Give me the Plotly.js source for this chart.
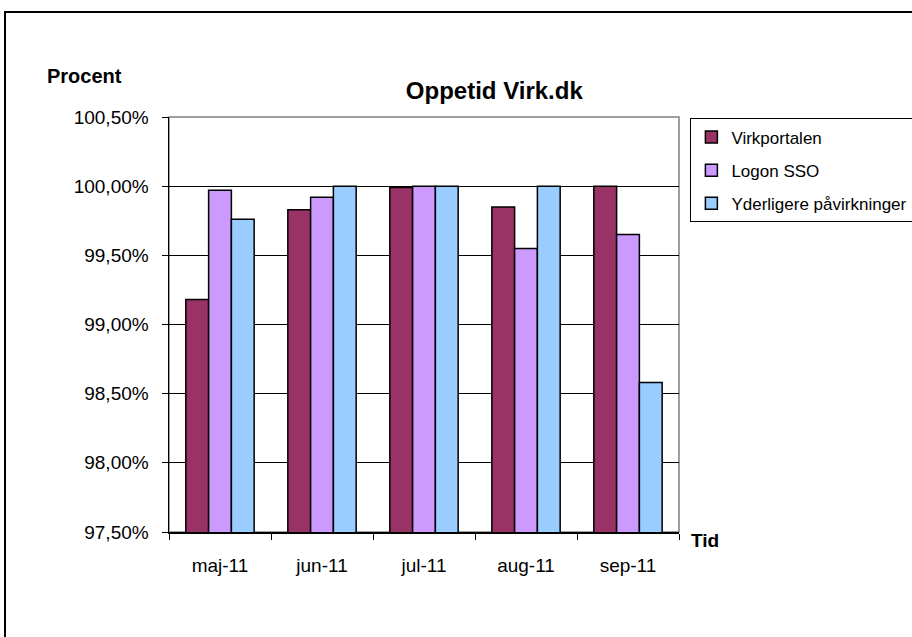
<!DOCTYPE html>
<html>
<head>
<meta charset="utf-8">
<script src="https://cdn.plot.ly/plotly-3.0.1.min.js"></script>
<style>
  body { margin: 0; overflow: hidden; background: #fff; }
  #chart { width: 912px; height: 637px; }
  #frame { position: absolute; left: 4px; top: 11px; width: 1000px; height: 1000px;
           border: 2px solid #000; pointer-events: none; }
</style>
</head>
<body>
<div id="chart"></div>
<div id="frame"></div>
<script>
  let months = ["maj-11", "jun-11", "jul-11", "aug-11", "sep-11"];
  let virkportalen = [99.18, 99.83, 99.99, 99.85, 100.00];
  let logonSSO = [99.97, 99.92, 100.00, 99.55, 99.65];
  let yderligere = [99.76, 100.00, 100.00, 100.00, 98.58];

  document.addEventListener("DOMContentLoaded", function() {
    drawChart();
  });

  function barTrace(name, values, color, group) {
    return {
      x: months,
      y: values,
      name: name,
      type: "bar",
      legendgroup: group,
      marker: { color: color, line: { color: "#000", width: 1.5 } },
      hoverinfo: "x+y+name"
    };
  }

  function drawChart() {
    let font = { family: "Liberation Sans, Arial, sans-serif", color: "#000" };

    let traces = [
      barTrace("Virkportalen", virkportalen, "#993366", "a"),
      barTrace("Logon SSO", logonSSO, "#CC99FF", "b"),
      barTrace("Yderligere påvirkninger", yderligere, "#99CCFF", "c")
    ];

    let layout = {
      width: 912,
      height: 637,
      margin: { l: 169, r: 233, t: 117, b: 105 },
      paper_bgcolor: "#fff",
      plot_bgcolor: "#fff",
      separators: ",.",
      font: Object.assign({ size: 18 }, font),
      title: {
        text: "<b>Oppetid Virk.dk</b>",
        font: Object.assign({ size: 24 }, font),
        xref: "container", x: 0.542, xanchor: "center",
        yref: "container", y: 0.857, yanchor: "middle"
      },
      barmode: "group",
      bargap: 0.33,
      bargroupgap: 0,
      xaxis: {
        type: "category",
        tickson: "boundaries",
        ticks: "outside",
        ticklen: 6,
        tickcolor: "#000",
        showline: true,
        linecolor: "#000",
        linewidth: 1.5,
        showgrid: false,
        ticklabelstandoff: 16,
        tickfont: Object.assign({ size: 19 }, font)
      },
      yaxis: {
        range: [97.5, 100.5],
        dtick: 0.5,
        tick0: 97.5,
        tickformat: ".2f",
        ticksuffix: "%",
        ticks: "outside",
        ticklen: 6,
        tickcolor: "#000",
        showline: true,
        linecolor: "#000",
        linewidth: 1.5,
        gridcolor: "#000",
        gridwidth: 1,
        zeroline: false,
        ticklabelstandoff: 9,
        tickfont: Object.assign({ size: 19 }, font)
      },
      legend: {
        xref: "container", yref: "container",
        x: 0.757, xanchor: "left",
        y: 0.814, yanchor: "top",
        bordercolor: "#000",
        borderwidth: 1,
        bgcolor: "#fff",
        traceorder: "grouped",
        tracegroupgap: 8,
        itemwidth: 30,
        font: Object.assign({ size: 17 }, font)
      },
      shapes: [{
        type: "rect", xref: "paper", yref: "paper",
        x0: 0, x1: 1, y0: 0, y1: 1,
        line: { color: "#808080", width: 1.5 },
        layer: "below"
      }],
      annotations: [
        {
          text: "<b>Procent</b>", xref: "paper", yref: "paper",
          x: -0.165, y: 1.099, xanchor: "center", yanchor: "middle",
          showarrow: false, font: Object.assign({ size: 20 }, font)
        },
        {
          text: "<b>Tid</b>", xref: "paper", yref: "paper",
          x: 1.05, y: -0.02, xanchor: "center", yanchor: "middle",
          showarrow: false, font: Object.assign({ size: 19 }, font)
        }
      ],
      showlegend: true
    };

    Plotly.newPlot("chart", traces, layout, { displayModeBar: false, staticPlot: true });
  }
</script>
</body>
</html>
